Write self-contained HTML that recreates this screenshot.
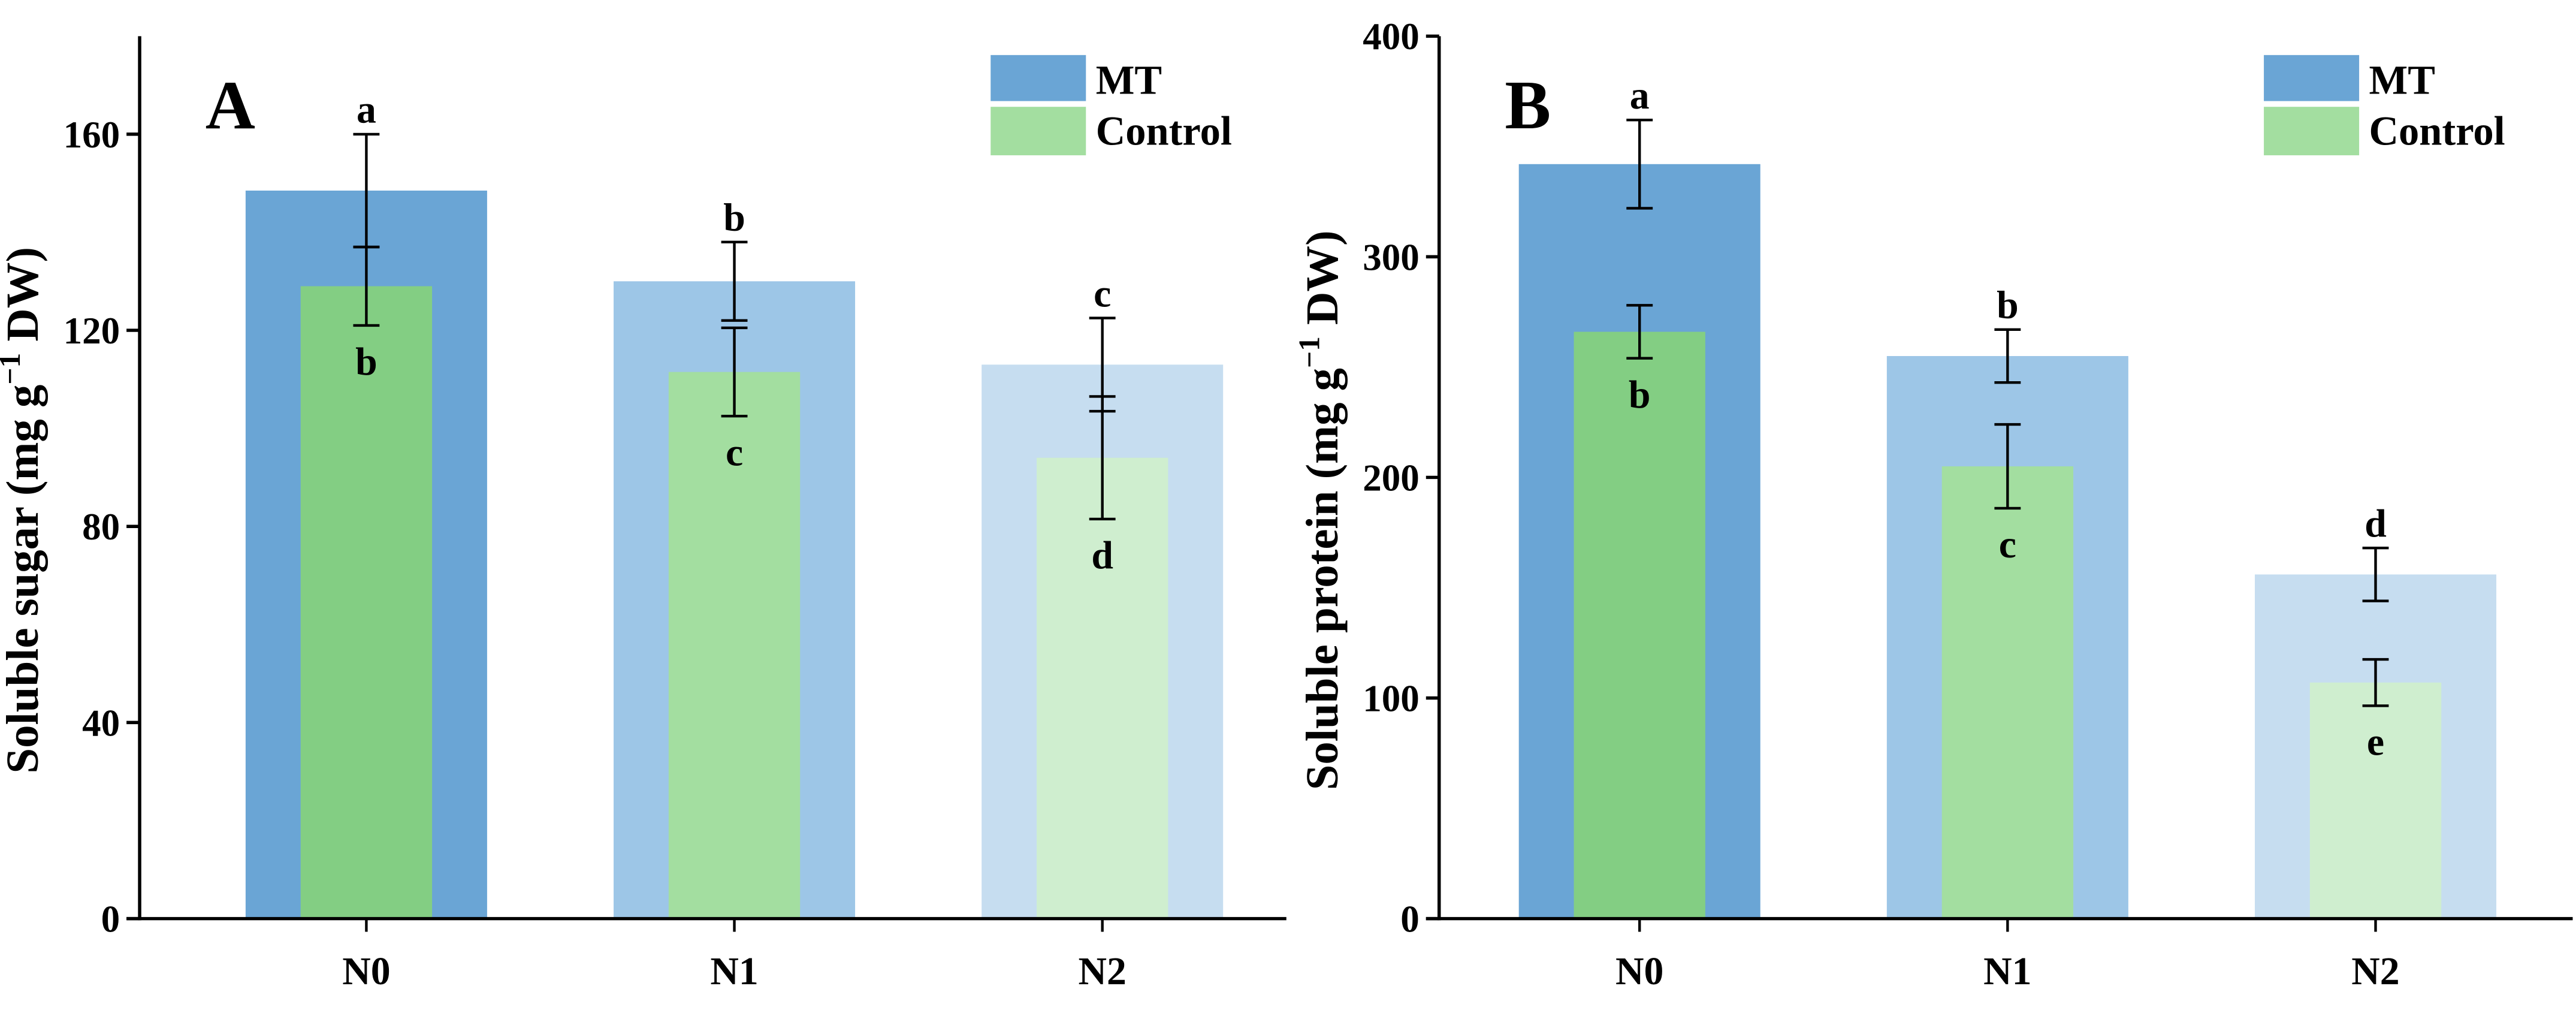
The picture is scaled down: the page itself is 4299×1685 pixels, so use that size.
<!DOCTYPE html>
<html><head><meta charset="utf-8"><style>
html,body{margin:0;padding:0;background:#fff;}
svg{display:block;}
text{font-family:"Liberation Serif",serif;font-weight:bold;fill:#000;}
</style></head><body>
<svg id="chart" width="4299" height="1685" viewBox="0 0 1568 614.6" preserveAspectRatio="none" xmlns="http://www.w3.org/2000/svg"></svg>
<script>
const categories = ["N0","N1","N2"];
const sugarMT = [148.5,130,113];
const sugarMTErr = [11.5,8,9.5];
const sugarCtrl = [129,111.5,94];
const sugarCtrlErr = [8,9,12.5];
const sugarTopLetters = ["a","b","c"];
const sugarBotLetters = ["b","c","d"];
const sugarTicks = [0,40,80,120,160];
const protMT = [342,255,156];
const protMTErr = [20,12,12];
const protCtrl = [266,205,107];
const protCtrlErr = [12,19,10.5];
const protTopLetters = ["a","b","d"];
const protBotLetters = ["b","c","e"];
const protTicks = [0,100,200,300,400];
const mtColors = ["#6aa5d5","#9dc6e7","#c6ddf0"];
const ctrlColors = ["#83ce83","#a3dea0","#cfeecf"];

const NS="http://www.w3.org/2000/svg";
const svg=document.getElementById('chart');
function mk(tag,attrs,parent){const e=document.createElementNS(NS,tag);for(const k in attrs)e.setAttribute(k,attrs[k]);(parent||svg).appendChild(e);return e;}

function panel(o){
  const g=mk('g',{});
  
  
  const y=v=>o.y0-(v/o.max)*(o.y0-o.yTop);
  const x=i=>o.cx0+i*224;
  categories.forEach((c,i)=>{
    const b=mk('rect',{x:x(i)-73.5,y:y(o.mt[i]),width:147,height:o.y0-y(o.mt[i]),fill:mtColors[i]},g);
    
    
    const cb=mk('rect',{x:x(i)-40,y:y(o.ctrl[i]),width:80,height:o.y0-y(o.ctrl[i]),fill:ctrlColors[i]},g);
    
    
  });
  categories.forEach((c,i)=>{
    [[o.mt[i],o.mtErr[i],'mt'],[o.ctrl[i],o.ctrlErr[i],'control']].forEach(([v,e,s])=>{
      const eg=mk('g',{stroke:'#000','stroke-width':1.6},g);
      
      
      mk('line',{x1:x(i),x2:x(i),y1:y(v+e),y2:y(v-e)},eg);
      mk('line',{x1:x(i)-8,x2:x(i)+8,y1:y(v+e),y2:y(v+e)},eg);
      mk('line',{x1:x(i)-8,x2:x(i)+8,y1:y(v-e),y2:y(v-e)},eg);
    });
    const t=mk('text',{x:x(i),y:y(o.mt[i]+o.mtErr[i])-7,'text-anchor':'middle','font-size':24},g);
    t.textContent=o.top[i];
    
    
    const t2=mk('text',{x:x(i),y:y(o.ctrl[i]-o.ctrlErr[i])+30,'text-anchor':'middle','font-size':24},g);
    t2.textContent=o.bot[i];
    
    
    mk('line',{x1:x(i),x2:x(i),y1:o.y0,y2:o.y0+8,stroke:'#000','stroke-width':1.6},g);
    const xl=mk('text',{x:x(i),y:o.y0+40,'text-anchor':'middle','font-size':24},g);
    xl.textContent=c;
    
    
  });
  const ax=mk('g',{stroke:'#000','stroke-width':2},g);
  
  
  mk('line',{x1:o.ax,x2:o.ax,y1:o.yTop,y2:o.y0+1},ax);
  mk('line',{x1:o.ax-8,x2:o.xEnd,y1:o.y0,y2:o.y0},ax);
  o.ticks.forEach(v=>{
    mk('line',{x1:o.ax-8,x2:o.ax,y1:y(v),y2:y(v)},ax);
    const tl=mk('text',{x:o.ax-12,y:y(v)+8,'text-anchor':'end','font-size':23},g);
    tl.textContent=v;
    
    
  });
  const yt=mk('text',{x:0,y:0,'text-anchor':'middle','font-size':28,transform:`translate(${o.ax-62},${(o.y0+o.yTop)/2+20}) rotate(-90)`},g);
  yt.innerHTML=o.title+' (mg g<tspan dy="-11" font-size="18">−1</tspan><tspan dy="11"> DW)</tspan>';
  
  
  const pl=mk('text',{x:o.ax+40,y:78,'font-size':42},g);
  pl.textContent=o.label;
  
  
  const lg=mk('g',{},g);
  
  
  mk('rect',{x:o.lx,y:33.5,width:58,height:28,fill:mtColors[0]},lg);
  mk('rect',{x:o.lx,y:65,width:58,height:29.5,fill:ctrlColors[1]},lg);
  const l1=mk('text',{x:o.lx+64,y:57,'font-size':25},lg);l1.textContent='MT';
  
  
  const l2=mk('text',{x:o.lx+64,y:88,'font-size':25},lg);l2.textContent='Control';
  
  
}
panel({name:'panel-a-soluble-sugar',ax:85,xEnd:783,y0:559,yTop:22,max:180,cx0:223,mt:sugarMT,mtErr:sugarMTErr,ctrl:sugarCtrl,ctrlErr:sugarCtrlErr,top:sugarTopLetters,bot:sugarBotLetters,ticks:sugarTicks,title:'Soluble sugar',label:'A',lx:603});
panel({name:'panel-b-soluble-protein',ax:876,xEnd:1566,y0:559,yTop:22,max:400,cx0:998,mt:protMT,mtErr:protMTErr,ctrl:protCtrl,ctrlErr:protCtrlErr,top:protTopLetters,bot:protBotLetters,ticks:protTicks,title:'Soluble protein',label:'B',lx:1378});
</script>
</body></html>
